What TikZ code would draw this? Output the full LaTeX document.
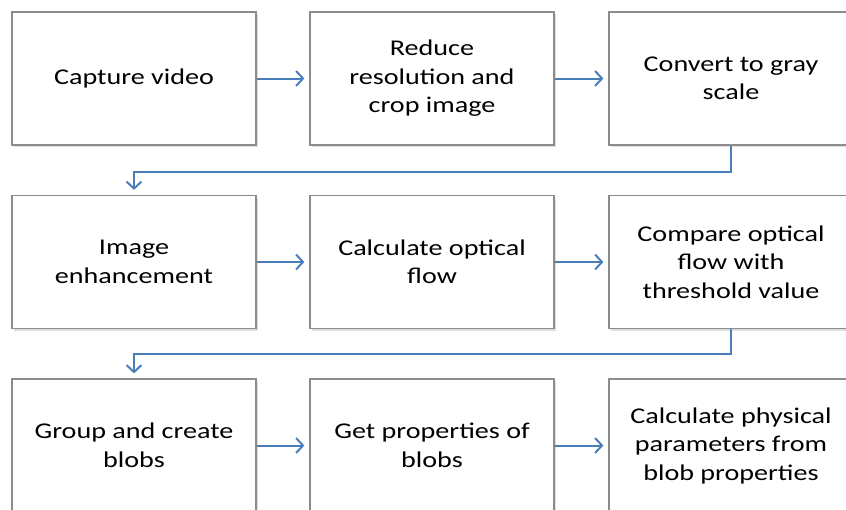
\documentclass[tikz,border=0pt]{standalone}
\usepackage{fontspec}
\setmainfont{Carlito}[FakeStretch=1.25]
\usetikzlibrary{arrows.meta,shadows}
\definecolor{flowblue}{RGB}{74,126,187}
\definecolor{boxgray}{RGB}{140,140,140}
\begin{document}
\begin{tikzpicture}[x=1pt,y=1pt,>={Straight Barb[length=7pt,width=15pt]},
	box/.style={draw=boxgray,line width=1.2pt,fill=white,minimum width=244pt,minimum height=133pt,
		inner sep=0pt,align=center,font=\fontsize{22.5}{28.5}\selectfont,
		drop shadow={opacity=0.25,shadow xshift=2pt,shadow yshift=-2pt}},
	flow/.style={draw=flowblue,line width=2pt,->,shorten >=5pt}]
	\useasboundingbox (0,0) rectangle (846,-509);
	%Hang 1
	\node[box] (cap) at (134,-78.5) {Capture video};
	\node[box] (red) at (432,-78.5) {Reduce\\resolution and\\crop image};
	\node[box] (conv) at (731,-78.5) {Convert to gray\\scale};
	%Hang 2
	\node[box] (enh) at (134,-262) {Image\\enhancement};
	\node[box] (opt) at (432,-262) {Calculate optical\\flow};
	\node[box] (cmp) at (731,-262) {Compare optical\\flow with\\threshold value};
	%Hang 3
	\node[box] (grp) at (134,-445.5) {Group and create\\blobs};
	\node[box] (prop) at (432,-445.5) {Get properties of\\blobs};
	\node[box] (phys) at (731,-445.5) {Calculate physical\\parameters from\\blob properties};
	%Mui ten ngang
	\draw[flow] (cap) -- (red);
	\draw[flow] (red) -- (conv);
	\draw[flow] (enh) -- (opt);
	\draw[flow] (opt) -- (cmp);
	\draw[flow] (grp) -- (prop);
	\draw[flow] (prop) -- (phys);
	%Mui ten xuong dong
	\draw[flow] (conv.south) -- ++(0,-26) -| (enh.north);
	\draw[flow] (cmp.south) -- ++(0,-25) -| (grp.north);
\end{tikzpicture}
\end{document}
